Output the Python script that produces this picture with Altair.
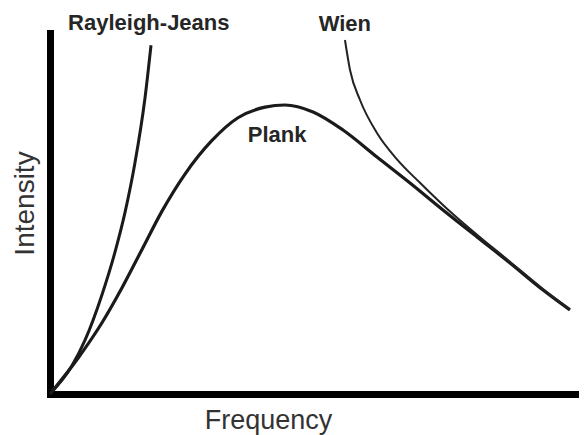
import altair as alt
import pandas as pd

# Curves (arbitrary units, 0-10 on both axes)
rj_x = [0, 0.40, 0.652, 0.968, 1.210, 1.397, 1.583, 1.769, 1.881]
rj_y = [0, 0.76, 1.49, 2.75, 3.93, 5.03, 6.41, 8.20, 9.66]

planck_x = [0, 0.521, 0.968, 1.341, 1.713, 2.086, 2.514, 3.017, 3.501, 4.004,
            4.376, 4.898, 5.456, 6.089, 6.704, 7.318, 7.952, 8.566, 9.181, 9.683]
planck_y = [0, 0.99, 1.973, 2.943, 4.003, 5.066, 6.093, 7.024, 7.653, 7.945,
            8.005, 7.812, 7.313, 6.565, 5.845, 5.097, 4.349, 3.629, 2.881, 2.327]

wien_x = [5.493, 5.587, 5.773, 6.089, 6.462, 6.890, 7.393, 7.952, 8.566, 9.181, 9.683]
wien_y = [9.806, 8.975, 8.144, 7.230, 6.500, 5.850, 5.130, 4.410, 3.665, 2.910, 2.350]

label_text = ["Rayleigh-Jeans", "Wien", "Plank"]
label_x = [1.84, 5.49, 4.23]
label_y = [10.08, 10.06, 6.98]

rj = pd.DataFrame({"x": rj_x, "y": rj_y})
planck = pd.DataFrame({"x": planck_x, "y": planck_y})
wien = pd.DataFrame({"x": wien_x, "y": wien_y})
labels = pd.DataFrame({"t": label_text, "x": label_x, "y": label_y})

xs = alt.Scale(domain=[0, 9.851], nice=False, zero=False)
ys = alt.Scale(domain=[0, 10], nice=False, zero=False)

x_axis = alt.Axis(
    title="Frequency", domain=True, domainColor="#000000", domainWidth=7,
    domainCap="square", ticks=False, labels=False, grid=False,
    titleFont="Liberation Sans", titleFontSize=27, titleFontWeight="normal",
    titleColor="#333333", titleX=218, titleY=34, titleBaseline="alphabetic",
    titleAlign="center",
)
y_axis = alt.Axis(
    title="Intensity", domain=True, domainColor="#000000", domainWidth=7,
    domainCap="square", ticks=False, labels=False, grid=False,
    titleFont="Liberation Sans", titleFontSize=28, titleFontWeight="normal",
    titleColor="#333333", titleAngle=270, titleX=-17, titleY=170,
    titleBaseline="alphabetic", titleAlign="center",
)

rj_line = alt.Chart(rj).mark_line(color="#1a1a1a", strokeWidth=3, interpolate="monotone").encode(
    x=alt.X("x:Q", scale=xs, axis=x_axis),
    y=alt.Y("y:Q", scale=ys, axis=y_axis),
)
planck_line = alt.Chart(planck).mark_line(color="#1a1a1a", strokeWidth=3.2, interpolate="monotone").encode(
    x=alt.X("x:Q", scale=xs), y=alt.Y("y:Q", scale=ys)
)
wien_line = alt.Chart(wien).mark_line(color="#222222", strokeWidth=2, interpolate="monotone").encode(
    x=alt.X("x:Q", scale=xs), y=alt.Y("y:Q", scale=ys)
)
text = alt.Chart(labels).mark_text(
    font="Liberation Sans", fontSize=22, fontWeight="bold", color="#262626",
    align="center", baseline="alphabetic",
).encode(x=alt.X("x:Q", scale=xs), y=alt.Y("y:Q", scale=ys), text="t:N")

chart = alt.layer(rj_line, planck_line, wien_line, text).properties(
    width=529, height=361,
    autosize=alt.AutoSizeParams(type="none"),
    padding={"left": 42, "top": 25, "right": 0, "bottom": 41},
    background="white",
).configure_view(stroke=None)

chart.save("out.html", embed_options={"renderer": "svg", "actions": False})
